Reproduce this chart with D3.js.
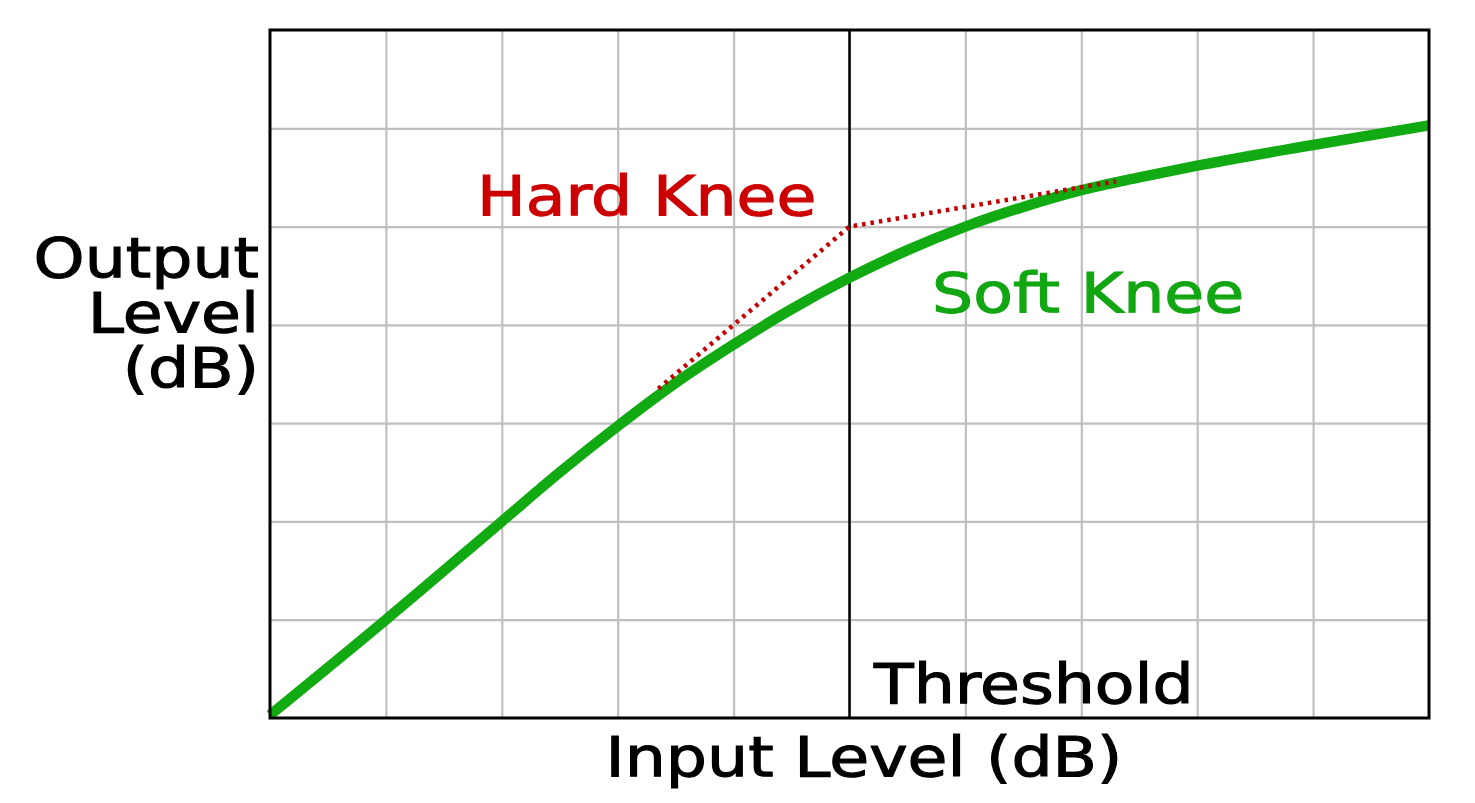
<!DOCTYPE html>
<html>
<head>
<meta charset="utf-8">
<script src="https://cdn.jsdelivr.net/npm/d3@7"></script>
<style>
  html, body { margin: 0; padding: 0; background: #fff; }
  svg { display: block; }
  text { font-family: "DejaVu Sans", Verdana, sans-serif; }
</style>
</head>
<body>
<svg id="chart" width="1475" height="803"></svg>
<script>
// ---- data (grid units: input 0..10, output 0..7) ----
const xTicks = [0, 1, 2, 3, 4, 5, 6, 7, 8, 9, 10];
const yTicks = [0, 1, 2, 3, 4, 5, 6, 7];
const thresholdX = 5;
const softKneeX = [0, 1, 2, 2.5, 3, 3.5, 4, 4.5, 5, 5.5, 6, 6.5, 7, 7.5, 8, 9, 10];
const softKneeY = [0.03, 1, 2, 2.5, 2.97, 3.41, 3.8, 4.16, 4.48, 4.76, 5.0, 5.2, 5.37, 5.5, 5.62, 5.83, 6.03];
const hardKneeX = [3.35, 5, 7.3];
const hardKneeY = [3.35, 5, 5.46];
const labels = {
  yTitle: ["Output", "Level", "(dB)"],
  xTitle: "Input Level (dB)",
  hard: "Hard Knee",
  soft: "Soft Knee",
  threshold: "Threshold"
};

// ---- layout ----
const L = 270, R = 1429, T = 30, B = 718;
const svg = d3.select("#chart");
const x = d3.scaleLinear().domain([0, 10]).range([L, R]);
const y = d3.scaleLinear().domain([0, 7]).range([B, T]);
const SX = 1.18; // horizontal stretch of the original artwork

// grid
const gx = svg.append("g").attr("transform", `translate(0,${B})`)
  .call(d3.axisBottom(x).tickValues(xTicks.slice(1, -1)).tickSize(-(B - T)).tickFormat(""));
const gy = svg.append("g").attr("transform", `translate(${L},0)`)
  .call(d3.axisLeft(y).tickValues(yTicks.slice(1, -1)).tickSize(-(R - L)).tickFormat(""));
[gx, gy].forEach(g => {
  g.select(".domain").remove();
  g.selectAll(".tick line").attr("stroke", "#c0c0c0").attr("stroke-width", 2.2);
});

// threshold line
svg.append("line")
  .attr("x1", x(thresholdX)).attr("x2", x(thresholdX))
  .attr("y1", y(0)).attr("y2", y(7))
  .attr("stroke", "#000").attr("stroke-width", 2.5);

// soft knee (green)
const softData = softKneeX.map((v, i) => [v, softKneeY[i]]);
svg.append("path")
  .datum(softData)
  .attr("d", d3.line().x(d => x(d[0])).y(d => y(d[1])).curve(d3.curveMonotoneX))
  .attr("fill", "none")
  .attr("stroke", "#12aa12")
  .attr("stroke-width", 10.5)
  .attr("stroke-linejoin", "round");

// hard knee (dotted, drawn over the green curve)
const hardData = hardKneeX.map((v, i) => [v, hardKneeY[i]]);
svg.append("path")
  .datum(hardData)
  .attr("d", d3.line().x(d => x(d[0])).y(d => y(d[1])))
  .attr("fill", "none")
  .attr("stroke", "#c40000")
  .attr("stroke-width", 4.5)
  .attr("stroke-dasharray", "3.5,5");

// border
svg.append("rect")
  .attr("x", L).attr("y", T).attr("width", R - L).attr("height", B - T)
  .attr("fill", "none").attr("stroke", "#000").attr("stroke-width", 3);

// texts
function label(txt, px, py, color, anchor) {
  svg.append("text")
    .attr("transform", `translate(${px},${py}) scale(${SX},1)`)
    .attr("text-anchor", anchor || "start")
    .attr("font-size", 55)
    .attr("fill", color)
    .attr("stroke", color)
    .attr("stroke-width", 1.1)
    .text(txt);
}
label(labels.hard, 477, 215, "#cc0000");
label(labels.soft, 932, 312, "#12a612");
label(labels.threshold, 874, 703, "#000");
label(labels.xTitle, 864, 776, "#000", "middle");
const yBase = [277, 332, 387];
labels.yTitle.forEach((t, i) => label(t, 259, yBase[i], "#000", "end"));
</script>
</body>
</html>
